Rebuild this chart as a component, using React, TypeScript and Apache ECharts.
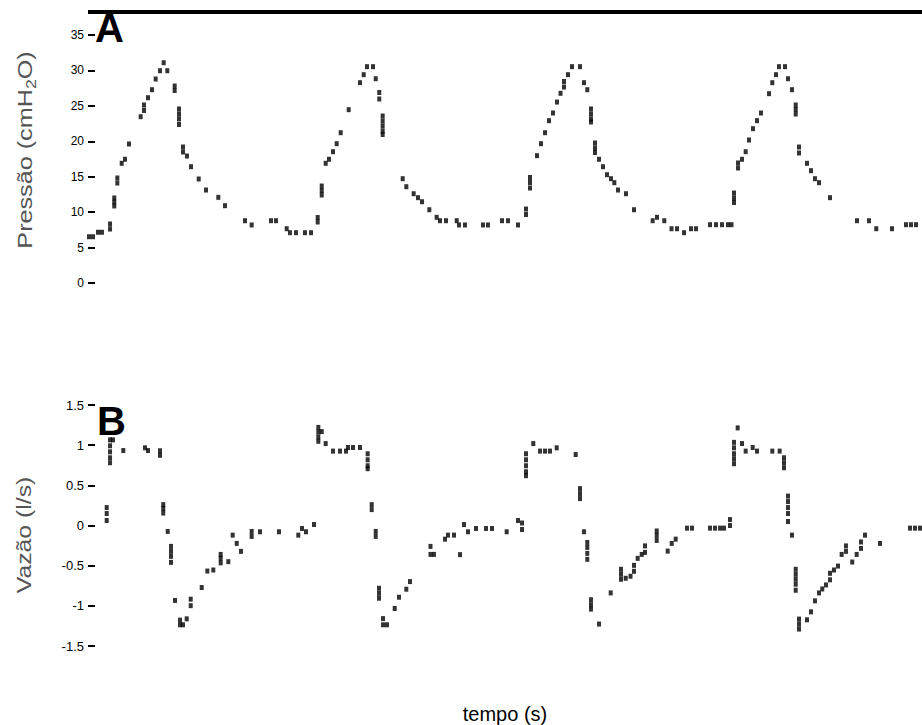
import React, { useEffect, useRef } from "react";
import * as echarts from "echarts";

// Time axis (s)
const timeMin = 0;
const timeMax = 12;

// Pressure axis (cmH2O)
const pressureTicks = { min: 0, max: 35, interval: 5 };
// Flow axis (l/s)
const flowTicks = { min: -1.5, max: 1.5, interval: 0.5 };

// Panel A: sampled airway pressure [time s, pressure cmH2O]
const pressureSamples: number[][] = [
  [0.014, 6.53], [0.072, 6.53], [0.144, 7.16], [0.201, 7.16],
  [0.317, 8.33], [0.317, 7.62],
  [0.378, 12.0], [0.378, 11.43], [0.378, 10.87],
  [0.422, 14.82], [0.422, 14.11],
  [0.485, 16.89], [0.532, 17.46], [0.59, 19.62], [0.758, 23.47],
  [0.806, 25.12], [0.806, 24.35],
  [0.863, 26.15], [0.921, 27.28], [0.974, 28.79], [1.036, 29.96], [1.089, 31.09], [1.141, 29.96],
  [1.247, 27.8], [1.247, 27.17],
  [1.309, 24.56], [1.309, 23.85], [1.309, 23.15], [1.309, 22.37],
  [1.367, 19.19], [1.367, 18.49],
  [1.424, 17.92], [1.482, 16.41], [1.593, 14.68], [1.698, 13.12], [1.875, 12.09], [1.971, 10.91], [2.259, 8.79], [2.355, 8.19],
  [2.633, 8.79], [2.705, 8.79],
  [2.859, 7.66], [2.906, 7.1], [2.993, 7.1], [3.122, 7.1], [3.209, 7.1],
  [3.305, 9.24], [3.305, 8.61],
  [3.363, 13.69], [3.363, 13.05], [3.363, 12.42],
  [3.42, 16.89], [3.468, 17.46], [3.525, 18.53], [3.578, 19.66], [3.636, 21.21], [3.751, 24.46], [3.914, 28.27], [3.967, 29.4], [4.014, 30.53], [4.101, 30.53], [4.14, 28.83],
  [4.191, 26.89], [4.191, 25.97],
  [4.24, 23.57], [4.24, 22.86], [4.24, 22.16], [4.24, 21.45], [4.24, 20.96],
  [4.528, 14.72], [4.58, 13.59], [4.686, 12.6], [4.748, 12.04], [4.806, 11.47], [4.911, 10.34], [5.017, 9.27], [5.065, 8.79], [5.151, 8.79], [5.305, 8.79], [5.338, 8.19], [5.424, 8.19], [5.683, 8.19], [5.755, 8.19], [5.957, 8.79], [6.043, 8.79], [6.187, 8.19],
  [6.302, 10.44], [6.302, 9.67],
  [6.36, 14.89], [6.36, 14.18], [6.36, 13.41],
  [6.46, 17.97], [6.518, 19.66], [6.576, 21.21], [6.633, 22.91], [6.691, 23.99], [6.748, 25.54], [6.799, 26.77],
  [6.849, 28.44], [6.849, 27.66],
  [6.906, 29.4], [6.964, 30.53], [7.079, 30.53], [7.137, 28.27], [7.184, 27.28],
  [7.237, 24.56], [7.237, 23.85], [7.237, 23.15], [7.237, 22.72],
  [7.295, 19.76], [7.295, 19.05], [7.295, 18.42],
  [7.353, 17.46], [7.41, 16.41], [7.468, 15.28], [7.525, 14.72], [7.573, 14.16], [7.626, 13.12], [7.741, 12.6], [7.856, 10.34], [8.125, 8.79], [8.187, 9.27], [8.292, 8.79], [8.396, 7.66], [8.475, 7.66], [8.576, 7.1], [8.676, 7.66], [8.748, 7.66],
  [8.95, 8.23], [9.036, 8.23], [9.122, 8.23], [9.209, 8.23], [9.259, 8.23],
  [9.295, 12.7], [9.295, 12.0], [9.295, 11.36],
  [9.353, 16.94], [9.353, 16.23],
  [9.41, 17.46], [9.463, 18.53], [9.511, 20.18], [9.568, 21.78], [9.626, 22.91], [9.683, 23.99], [9.799, 26.72], [9.846, 28.27], [9.899, 29.4], [9.942, 30.53], [10.029, 30.53], [10.072, 28.83], [10.129, 27.28],
  [10.183, 25.12], [10.183, 24.49], [10.183, 23.85],
  [10.23, 19.19], [10.23, 18.35],
  [10.345, 16.89], [10.403, 15.85], [10.46, 14.72], [10.518, 14.16], [10.676, 12.04], [11.065, 8.79], [11.237, 8.79], [11.342, 7.66], [11.568, 7.66], [11.77, 8.23], [11.842, 8.23], [11.914, 8.23],
];

// Panel B: sampled airflow [time s, flow l/s]
const flowSamples: number[][] = [
  [0.317, 1.066], [0.317, 0.992], [0.317, 0.917], [0.317, 0.843], [0.317, 0.781], [0.36, 1.066],
  [0.269, 0.223], [0.269, 0.149], [0.269, 0.062],
  [0.508, 0.933], [0.82, 0.967], [0.863, 0.933],
  [1.036, 0.93], [1.036, 0.874],
  [1.083, 0.26], [1.083, 0.211], [1.083, 0.155],
  [1.147, -0.074],
  [1.194, -0.26], [1.194, -0.322], [1.194, -0.384], [1.194, -0.459],
  [1.252, -0.933],
  [1.324, -1.236], [1.324, -1.178], [1.367, -1.236], [1.42, -1.162],
  [1.478, -0.917], [1.478, -0.998],
  [1.636, -0.772], [1.717, -0.567], [1.803, -0.554],
  [1.909, -0.36], [1.909, -0.409], [1.909, -0.465],
  [2.019, -0.45], [2.082, -0.12], [2.14, -0.223], [2.201, -0.322],
  [2.355, -0.074], [2.355, -0.136],
  [2.475, -0.078], [2.748, -0.078], [3.026, -0.12], [3.079, -0.037], [3.137, -0.078], [3.252, 0.012],
  [3.314, 1.221], [3.314, 1.165], [3.314, 1.103], [3.314, 1.048], [3.363, 1.169],
  [3.42, 1.02], [3.525, 0.926], [3.626, 0.926], [3.712, 0.926], [3.741, 0.971], [3.813, 0.971], [3.914, 0.971],
  [4.024, 0.893], [4.024, 0.818], [4.024, 0.744], [4.024, 0.707],
  [4.082, 0.26], [4.082, 0.198],
  [4.14, -0.074], [4.14, -0.136],
  [4.187, -0.781], [4.187, -0.843], [4.187, -0.905],
  [4.245, -1.159], [4.245, -1.236], [4.302, -1.236],
  [4.413, -1.033], [4.475, -0.893], [4.58, -0.793], [4.633, -0.698],
  [4.928, -0.26], [4.928, -0.36], [4.978, -0.36],
  [5.137, -0.17], [5.18, -0.12], [5.266, -0.12],
  [5.353, -0.363], [5.41, 0.012], [5.468, -0.078], [5.583, -0.037], [5.727, -0.037], [5.813, -0.037], [6.024, -0.078], [6.187, 0.062],
  [6.245, 0.031], [6.245, -0.05],
  [6.302, 0.893], [6.302, 0.818], [6.302, 0.744], [6.302, 0.669], [6.302, 0.62],
  [6.407, 1.02], [6.504, 0.926], [6.576, 0.926], [6.647, 0.926], [6.744, 0.967],
  [7.017, 0.884],
  [7.079, 0.459], [7.079, 0.397], [7.079, 0.335],
  [7.137, -0.078],
  [7.184, -0.211], [7.184, -0.273], [7.184, -0.347], [7.184, -0.421],
  [7.237, -0.924], [7.237, -0.986], [7.237, -1.041],
  [7.353, -1.227], [7.521, -0.839],
  [7.669, -0.545], [7.669, -0.607], [7.669, -0.669], [7.737, -0.657], [7.806, -0.632],
  [7.856, -0.496], [7.856, -0.57],
  [7.909, -0.409], [7.967, -0.36],
  [8.014, -0.254], [8.014, -0.335],
  [8.183, -0.068], [8.183, -0.124], [8.183, -0.186],
  [8.341, -0.319], [8.399, -0.223], [8.456, -0.17],
  [8.619, -0.033], [8.691, -0.033],
  [8.95, -0.033], [9.022, -0.033], [9.094, -0.033], [9.151, -0.033],
  [9.237, 0.074], [9.237, 0.0],
  [9.348, 1.215],
  [9.295, 1.035], [9.295, 0.967], [9.295, 0.893], [9.295, 0.831], [9.295, 0.769],
  [9.41, 1.02], [9.463, 0.926], [9.564, 0.971], [9.626, 0.926], [9.846, 0.926], [9.952, 0.926],
  [10.014, 0.843], [10.014, 0.781], [10.014, 0.719],
  [10.072, 0.366], [10.072, 0.298], [10.072, 0.223], [10.072, 0.149], [10.072, 0.05],
  [10.129, -0.12],
  [10.183, -0.545], [10.183, -0.607], [10.183, -0.669], [10.183, -0.731], [10.183, -0.806],
  [10.23, -1.165], [10.23, -1.227], [10.23, -1.289],
  [10.345, -1.174], [10.403, -1.075], [10.46, -0.938], [10.518, -0.839], [10.565, -0.79], [10.619, -0.74],
  [10.676, -0.595], [10.676, -0.676],
  [10.734, -0.554], [10.791, -0.505], [10.844, -0.36],
  [10.906, -0.254], [10.906, -0.322],
  [10.996, -0.455], [11.06, -0.36],
  [11.122, -0.205], [11.122, -0.285],
  [11.18, -0.12], [11.396, -0.223],
  [11.827, -0.033], [11.899, -0.033], [11.971, -0.033],
];

const FONT = "Liberation Sans, Arial, sans-serif";

export default function App() {
  const ref = useRef<HTMLDivElement>(null);

  useEffect(() => {
    if (!ref.current) return;
    const chart = echarts.init(ref.current, undefined, { renderer: "svg" });

    const yAxisCommon = {
      type: "value" as const,
      axisLine: { show: false },
      splitLine: { show: false },
      axisTick: { show: true, inside: true, length: 7, lineStyle: { color: "#000", width: 2 } },
      axisLabel: { color: "#000", fontFamily: FONT, margin: 4 },
    };

    chart.setOption({
      animation: false,
      backgroundColor: "#fff",
      grid: [
        { left: 88, right: 0, top: 35, height: 248 },
        { left: 88, right: 0, top: 405, height: 242 },
      ],
      xAxis: [
        { type: "value", gridIndex: 0, min: timeMin, max: timeMax, show: false },
        {
          type: "value",
          gridIndex: 1,
          min: timeMin,
          max: timeMax,
          axisLine: { show: false },
          axisTick: { show: false },
          axisLabel: { show: false },
          splitLine: { show: false },
          name: "tempo (s)",
          nameLocation: "middle",
          nameGap: 58,
          nameTextStyle: { color: "#000", fontSize: 20, fontFamily: FONT },
        },
      ],
      yAxis: [
        {
          ...yAxisCommon,
          gridIndex: 0,
          min: pressureTicks.min,
          max: pressureTicks.max,
          interval: pressureTicks.interval,
          axisLabel: { ...yAxisCommon.axisLabel, fontSize: 12 },
        },
        {
          ...yAxisCommon,
          gridIndex: 1,
          min: flowTicks.min,
          max: flowTicks.max,
          interval: flowTicks.interval,
          axisLabel: { ...yAxisCommon.axisLabel, fontSize: 13 },
        },
      ],
      series: [
        {
          type: "scatter",
          xAxisIndex: 0,
          yAxisIndex: 0,
          data: pressureSamples,
          symbol: "rect",
          symbolSize: [4, 5],
          itemStyle: { color: "#000" },
          clip: false,
        },
        {
          type: "scatter",
          xAxisIndex: 1,
          yAxisIndex: 1,
          data: flowSamples,
          symbol: "rect",
          symbolSize: [4, 5],
          itemStyle: { color: "#000" },
          clip: false,
        },
      ],
      graphic: [
        {
          type: "line",
          shape: { x1: 88, y1: 12, x2: 922, y2: 12 },
          style: { stroke: "#000", lineWidth: 4 },
        },
        {
          type: "text",
          x: 95,
          y: 8,
          style: { text: "A", font: `bold 40px ${FONT}`, fill: "#000", verticalAlign: "top" },
        },
        {
          type: "text",
          x: 97,
          y: 401,
          style: { text: "B", font: `bold 40px ${FONT}`, fill: "#000", verticalAlign: "top" },
        },
        {
          type: "text",
          x: 25,
          y: 150,
          rotation: Math.PI / 2,
          scaleX: 1.26,
          style: {
            text: "{a|Pressão (cmH}{s|2}{a|O)}",
            align: "center",
            verticalAlign: "middle",
            fill: "#555",
            rich: {
              a: { fontSize: 20, fontFamily: FONT, fill: "#555", color: "#555" },
              s: { fontSize: 14, fontFamily: FONT, fill: "#555", color: "#555", padding: [12, 0, 0, 0] },
            },
          },
        },
        {
          type: "text",
          x: 24,
          y: 535,
          rotation: Math.PI / 2,
          scaleX: 1.24,
          style: {
            text: "Vazão (l/s)",
            align: "center",
            verticalAlign: "middle",
            fill: "#555",
            font: `20px ${FONT}`,
          },
        },
      ],
    });

    return () => chart.dispose();
  }, []);

  return (
    <div
      ref={ref}
      style={{ position: "fixed", left: 0, top: 0, width: 922, height: 725, background: "#fff" }}
    />
  );
}
